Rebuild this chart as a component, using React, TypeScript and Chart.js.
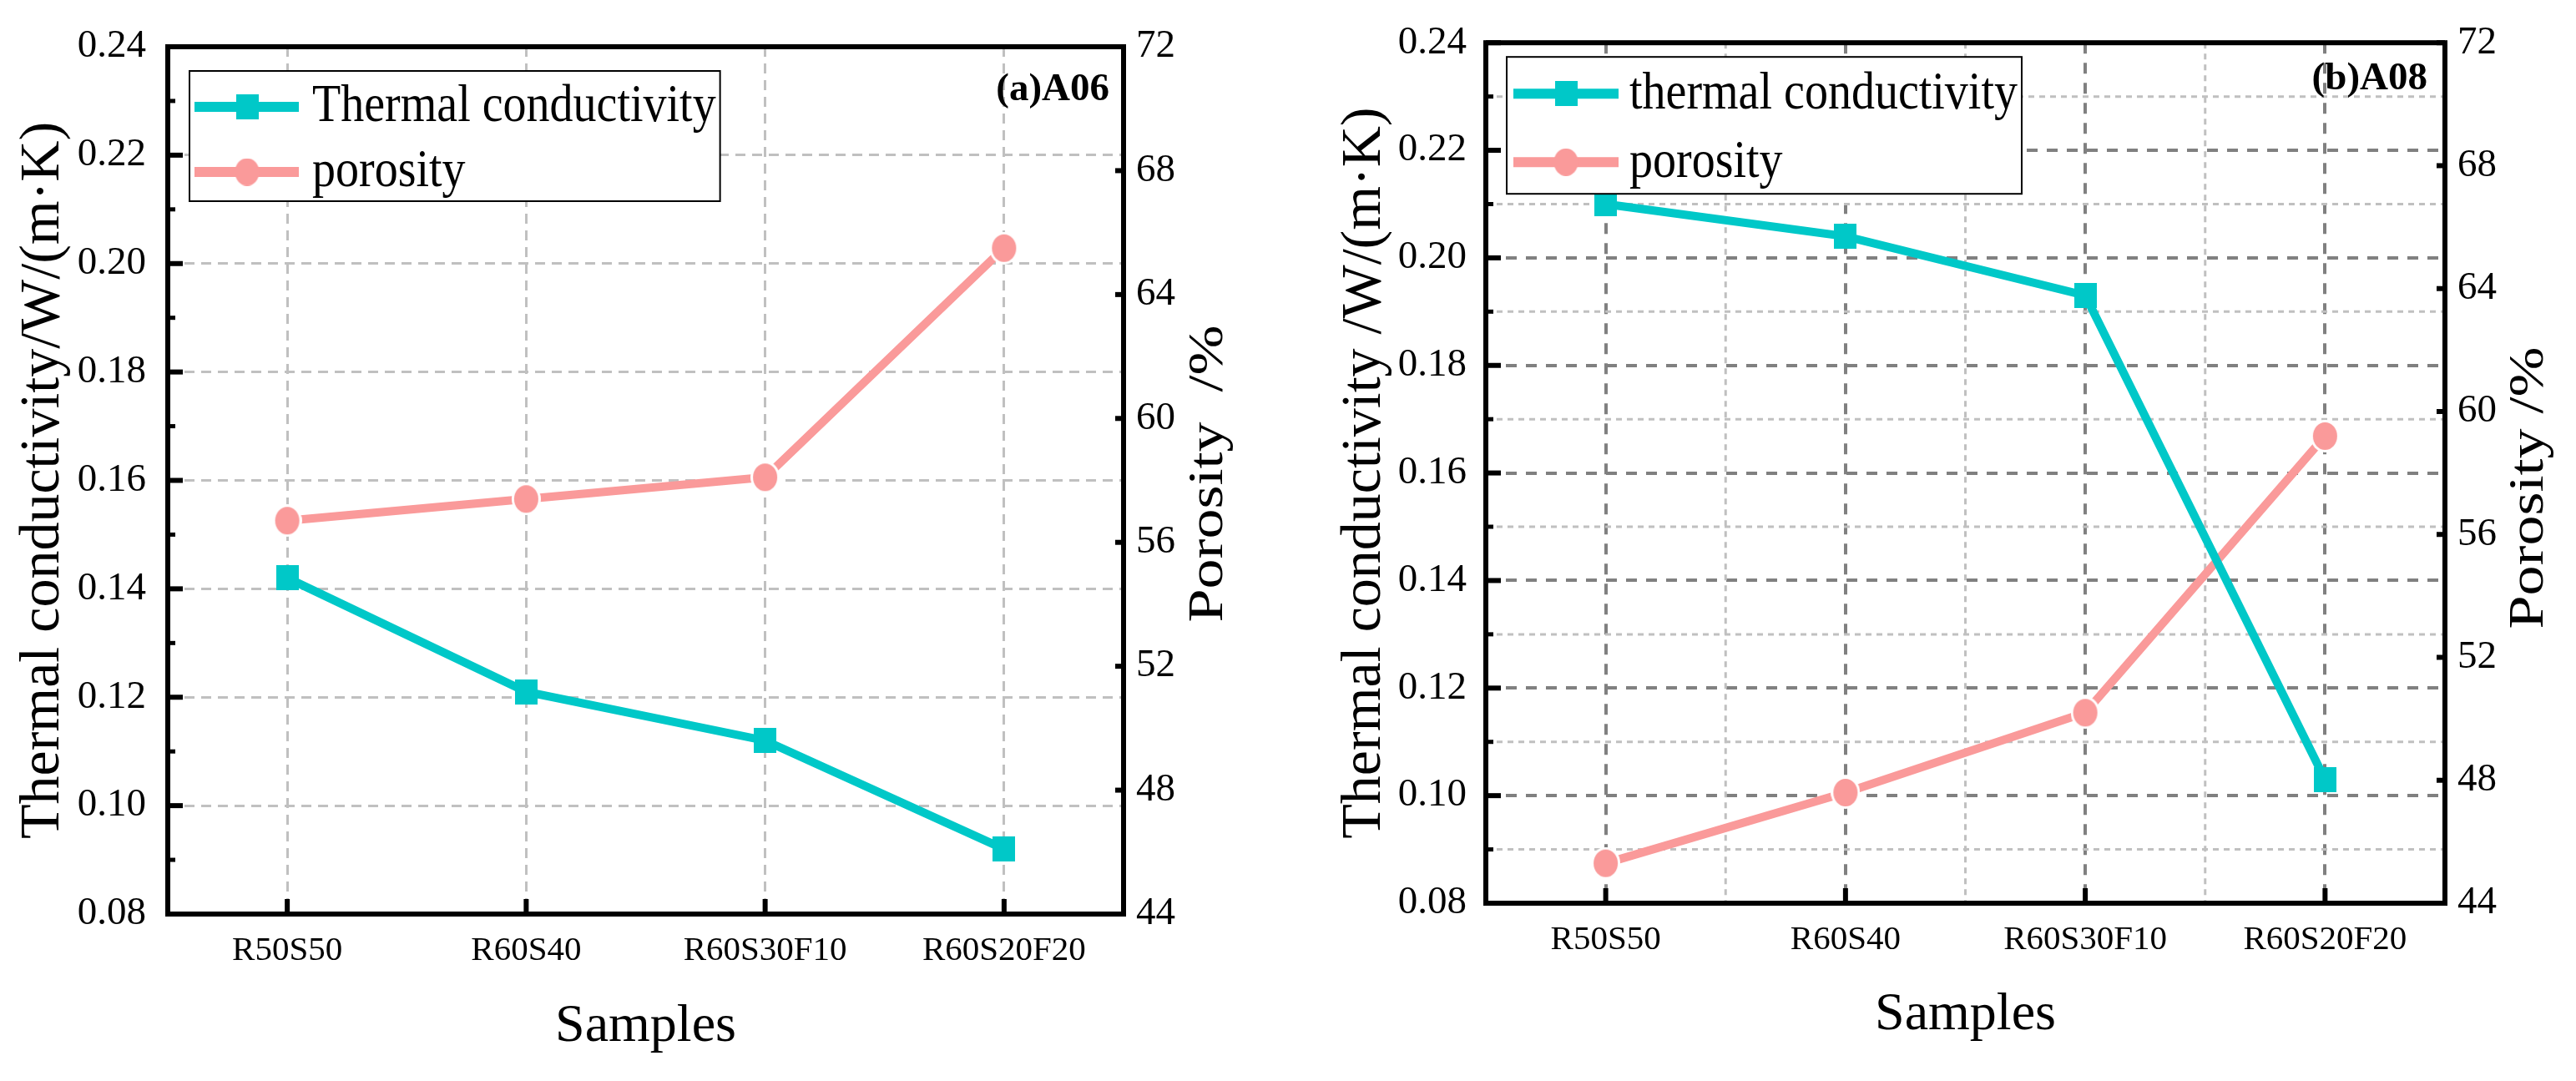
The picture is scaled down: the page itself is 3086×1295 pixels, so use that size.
import React, { useEffect, useRef } from "react";
import { Chart, registerables } from "chart.js";

Chart.register(...registerables);

// ---- data ----
const samples = ["R50S50", "R60S40", "R60S30F10", "R60S20F20"];
const a06Conductivity = [0.142, 0.121, 0.112, 0.092];
const a06Porosity = [56.7, 57.4, 58.1, 65.5];
const a08Conductivity = [0.21, 0.204, 0.193, 0.103];
const a08Porosity = [45.3, 47.6, 50.2, 59.2];
const conductivityRange = [0.08, 0.24];
const conductivityStep = 0.02;
const porosityRange = [44, 72];
const porosityStep = 4;

const TEAL = "#00c8c8";
const PINK = "#fa9a9a";
const SERIF = '"Liberation Serif", "Times New Roman", serif';
const W = 1543;
const H = 1295;

Chart.defaults.font.family = SERIF;
Chart.defaults.color = "#000";

const panels = [
  {
    tag: "(a)A06",
    cond: a06Conductivity,
    por: a06Porosity,
    condLabel: "Thermal conductivity",
    yTitle: "Thermal conductivity/W/(m·K)",
    porTitle: "Porosity  /%",
    area: { left: 201, top: 56, right: 1346, bottom: 1095 },
    dark: false,
    yTickPad: 26,
    yTitlePad: 11,
    samplesPad: 26,
    porDx: 102,
    porDy: -8,
    tagDx: 17,
    tagDy: 64,
    legend: { dx: 26, dy: 29, row0: 43, rowStep: 78, h: 156, x0: 6, x1: 131, mx: 69, textX: 147 },
  },
  {
    tag: "(b)A08",
    cond: a08Conductivity,
    por: a08Porosity,
    condLabel: "thermal conductivity",
    yTitle: "Thermal conductivity /W/(m·K)",
    porTitle: "Porosity /%",
    area: { left: 237, top: 42, right: 1386, bottom: 1082 },
    dark: true,
    yTickPad: 23,
    yTitlePad: 51,
    samplesPad: 40,
    porDx: 101,
    porDy: 18,
    tagDx: 21,
    tagDy: 56,
    legend: { dx: 25, dy: 17, row0: 44, rowStep: 82, h: 164, x0: 8, x1: 134, mx: 71, textX: 147 },
  },
];

function squareMarker(w: number, h: number, color: string) {
  const c = document.createElement("canvas");
  c.width = w;
  c.height = h;
  const g = c.getContext("2d")!;
  g.fillStyle = color;
  g.fillRect(0, 0, w, h);
  return c;
}

function ellipseMarker(rx: number, ry: number, color: string, ring: number) {
  const c = document.createElement("canvas");
  c.width = Math.round(2 * (rx + ring));
  c.height = Math.round(2 * (ry + ring));
  const g = c.getContext("2d")!;
  const cx = c.width / 2;
  const cy = c.height / 2;
  if (ring > 0) {
    g.fillStyle = "#fff";
    g.beginPath();
    g.ellipse(cx, cy, rx + ring, ry + ring, 0, 0, Math.PI * 2);
    g.fill();
  }
  g.fillStyle = color;
  g.beginPath();
  g.ellipse(cx, cy, rx, ry, 0, 0, Math.PI * 2);
  g.fill();
  return c;
}

function seg(ctx: CanvasRenderingContext2D, x1: number, y1: number, x2: number, y2: number) {
  ctx.beginPath();
  ctx.moveTo(x1, y1);
  ctx.lineTo(x2, y2);
  ctx.stroke();
}

// minor grid, inward ticks, frame, boxed legend, tag and right-hand title
const framePlugin = {
  id: "frame",
  beforeDatasetsDraw(chart: any, _a: any, o: any) {
    if (!o.dark) return;
    const { ctx, chartArea: a } = chart;
    const xs = chart.scales.x;
    const ys = chart.scales.y;
    ctx.save();
    ctx.strokeStyle = "#c0c0c0";
    ctx.lineWidth = 3;
    ctx.setLineDash([7, 6]);
    const yt = ys.ticks;
    for (let i = 0; i < yt.length - 1; i++) {
      const py = ys.getPixelForValue((yt[i].value + yt[i + 1].value) / 2);
      seg(ctx, a.left, py, a.right, py);
    }
    for (let i = 0; i < samples.length - 1; i++) {
      const px = (xs.getPixelForValue(i) + xs.getPixelForValue(i + 1)) / 2;
      seg(ctx, px, a.top, px, a.bottom);
    }
    ctx.restore();
  },
  afterDraw(chart: any, _a: any, o: any) {
    const { ctx, chartArea: a } = chart;
    const xs = chart.scales.x;
    const ys = chart.scales.y;
    const y1 = chart.scales.y1;
    ctx.save();
    ctx.strokeStyle = "#000";
    ctx.setLineDash([]);

    // inward ticks
    const yt = ys.ticks;
    ctx.lineWidth = 6;
    yt.forEach((t: any) => {
      const py = ys.getPixelForValue(t.value);
      seg(ctx, a.left, py, a.left + 18, py);
    });
    ctx.lineWidth = 5;
    for (let i = 0; i < yt.length - 1; i++) {
      const py = ys.getPixelForValue((yt[i].value + yt[i + 1].value) / 2);
      seg(ctx, a.left, py, a.left + 9, py);
    }
    ctx.lineWidth = 6;
    samples.forEach((_s, i) => {
      const px = xs.getPixelForValue(i);
      seg(ctx, px, a.bottom, px, a.bottom - 18);
    });
    y1.ticks.forEach((t: any) => {
      const py = y1.getPixelForValue(t.value);
      seg(ctx, a.right, py, a.right - 10, py);
    });

    // frame
    ctx.lineWidth = 6;
    ctx.strokeRect(a.left, a.top, a.right - a.left, a.bottom - a.top);

    // legend
    const L = o.legend;
    const bx = a.left + L.dx;
    const by = a.top + L.dy;
    ctx.font = `56px ${SERIF}`;
    const ds = chart.data.datasets;
    const tw = Math.max(...ds.map((d: any) => ctx.measureText(d.label).width));
    const bw = L.textX + tw + 5;
    ctx.fillStyle = "#fff";
    ctx.fillRect(bx, by, bw, L.h);
    ctx.lineWidth = 2;
    ctx.strokeRect(bx, by, bw, L.h);
    ds.forEach((d: any, i: number) => {
      const cy = by + L.row0 + i * L.rowStep;
      ctx.strokeStyle = d.borderColor;
      ctx.lineWidth = 12;
      seg(ctx, bx + L.x0, cy, bx + L.x1, cy);
      const m = d.legendMarker;
      ctx.drawImage(m, bx + L.mx - m.width / 2, cy - m.height / 2);
      ctx.save();
      ctx.translate(bx + L.textX, cy + 1);
      ctx.scale(1, 1.12);
      ctx.fillStyle = "#000";
      ctx.textAlign = "left";
      ctx.textBaseline = "middle";
      ctx.fillText(d.label, 0, 0);
      ctx.restore();
    });

    // panel tag
    ctx.font = `bold 47px ${SERIF}`;
    ctx.textAlign = "right";
    ctx.textBaseline = "alphabetic";
    ctx.fillStyle = "#000";
    ctx.fillText(o.tag, a.right - o.tagDx, a.top + o.tagDy);

    // right axis title, reading bottom to top
    ctx.translate(a.right + o.porDx, (a.top + a.bottom) / 2 + o.porDy);
    ctx.rotate(-Math.PI / 2);
    ctx.scale(1.2, 1);
    ctx.font = `60px ${SERIF}`;
    ctx.textAlign = "center";
    ctx.textBaseline = "middle";
    ctx.fillText(o.porTitle, 0, 0);
    ctx.restore();
  },
};

function PanelChart({ p, left }: { p: any; left: number }) {
  const canvasRef = useRef<HTMLCanvasElement | null>(null);
  useEffect(() => {
    if (!canvasRef.current) return;
    const gridColor = p.dark ? "#808080" : "#c0c0c0";
    const gridWidth = p.dark ? 4 : 3;
    const gridDash = p.dark ? [13, 11] : [12, 8];
    const sq = squareMarker(27, 30, TEAL);
    const dot = ellipseMarker(14.5, 16.5, PINK, 3);
    const dotPlain = ellipseMarker(14.5, 16.5, PINK, 0);
    const chart = new Chart(canvasRef.current, {
      type: "line",
      data: {
        labels: samples,
        datasets: [
          {
            label: p.condLabel,
            data: p.cond,
            yAxisID: "y",
            borderColor: TEAL,
            backgroundColor: TEAL,
            borderWidth: 10,
            pointStyle: sq,
            pointRadius: 15,
            tension: 0,
            legendMarker: sq,
          } as any,
          {
            label: "porosity",
            data: p.por,
            yAxisID: "y1",
            borderColor: PINK,
            backgroundColor: PINK,
            borderWidth: 10,
            pointStyle: dot,
            pointRadius: 15,
            tension: 0,
            legendMarker: dotPlain,
          } as any,
        ],
      },
      options: {
        responsive: false,
        animation: false,
        events: [],
        layout: { padding: { top: p.area.top, left: 0, right: 0, bottom: 0 } },
        plugins: {
          legend: { display: false },
          tooltip: { enabled: false },
          frame: p,
        } as any,
        scales: {
          x: {
            type: "category",
            offset: true,
            afterFit: (s: any) => {
              s.height = H - p.area.bottom;
            },
            grid: { color: gridColor, lineWidth: gridWidth, drawTicks: false },
            border: { display: false, dash: gridDash },
            ticks: {
              font: { size: 41 },
              color: "#000",
              padding: 20,
              maxRotation: 0,
              autoSkip: false,
            },
            title: {
              display: true,
              text: "Samples",
              font: { size: 64 },
              color: "#000",
              padding: { top: 0, bottom: p.samplesPad },
            },
          },
          y: {
            type: "linear",
            position: "left",
            min: conductivityRange[0],
            max: conductivityRange[1],
            afterFit: (s: any) => {
              s.width = p.area.left;
            },
            grid: { color: gridColor, lineWidth: gridWidth, drawTicks: false },
            border: { display: false, dash: gridDash },
            ticks: {
              stepSize: conductivityStep,
              font: { size: 47 },
              color: "#000",
              padding: p.yTickPad,
              callback: (v: any) => Number(v).toFixed(2),
            },
            title: {
              display: true,
              text: p.yTitle,
              font: { size: 68 },
              color: "#000",
              padding: { top: p.yTitlePad, bottom: 0 },
            },
          },
          y1: {
            type: "linear",
            position: "right",
            min: porosityRange[0],
            max: porosityRange[1],
            afterFit: (s: any) => {
              s.width = W - p.area.right;
            },
            grid: { display: false, drawTicks: false },
            border: { display: false },
            ticks: {
              stepSize: porosityStep,
              font: { size: 47 },
              color: "#000",
              padding: 15,
            },
          },
        },
      } as any,
      plugins: [framePlugin as any],
    });
    return () => chart.destroy();
  }, [p]);

  return (
    <canvas
      ref={canvasRef}
      width={W}
      height={H}
      style={{ position: "absolute", left, top: 0, width: W, height: H, display: "block" }}
    />
  );
}

export default function App() {
  return (
    <div
      style={{
        position: "absolute",
        left: 0,
        top: 0,
        width: W * 2,
        height: H,
        background: "#fff",
        overflow: "hidden",
      }}
    >
      <PanelChart p={panels[0]} left={0} />
      <PanelChart p={panels[1]} left={W} />
    </div>
  );
}
